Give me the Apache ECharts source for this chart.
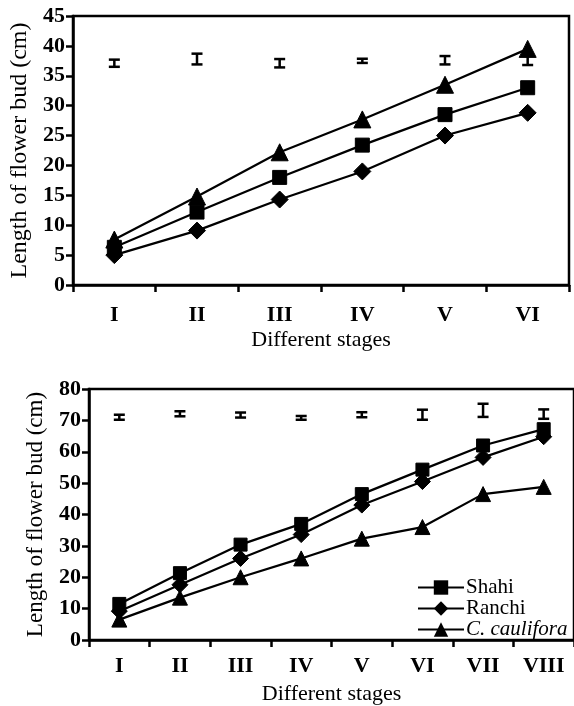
<!DOCTYPE html>
<html>
<head>
<meta charset="utf-8">
<script src="https://cdn.jsdelivr.net/npm/echarts@6/dist/echarts.min.js"></script>
<style>
html,body{margin:0;padding:0;background:#fff;}
#c{width:574px;height:706px;}
</style>
</head>
<body>
<div id="c"></div>
<script>
// ---- data ----
const stagesTop = ['I', 'II', 'III', 'IV', 'V', 'VI'];
const stagesBottom = ['I', 'II', 'III', 'IV', 'V', 'VI', 'VII', 'VIII'];

const shahiTop = [6.3, 12.2, 18.0, 23.4, 28.5, 33.0];
const ranchiTop = [5.0, 9.1, 14.3, 19.0, 25.0, 28.8];
const caulTop = [7.6, 14.8, 22.2, 27.7, 33.5, 39.5];
const errMeanTop = [37.1, 37.8, 37.1, 37.5, 37.6, 37.8];
const errSizeTop = [0.6, 0.9, 0.7, 0.35, 0.7, 1.0];

const shahiBottom = [11.5, 21.3, 30.4, 37.0, 46.5, 54.3, 62.0, 67.2];
const ranchiBottom = [9.2, 17.6, 26.0, 33.6, 43.0, 50.5, 58.2, 64.8];
const caulBottom = [6.5, 13.5, 20.0, 26.0, 32.3, 36.0, 46.5, 48.8];
const errMeanBottom = [71.0, 72.1, 71.7, 70.8, 71.8, 71.8, 73.2, 72.0];
const errSizeBottom = [0.8, 0.8, 0.8, 0.6, 0.8, 1.6, 2.1, 1.5];

const yTicksTop = {min: 0, max: 45, interval: 5};
const yTicksBottom = {min: 0, max: 80, interval: 10};

const seriesNames = ['Shahi', 'Ranchi', 'C. caulifora'];

// ---- helpers ----
const FONT = 'Liberation Serif';
function errData(means, sizes) {
  return means.map((m, i) => [i, m, sizes[i]]);
}
function errRender(params, api) {
  const i = api.value(0), m = api.value(1), e = api.value(2);
  const lo = api.coord([i, m - e]);
  const hi = api.coord([i, m + e]);
  const w = 5.5;
  const st = {stroke: '#000', lineWidth: 2.5};
  return {type: 'group', children: [
    {type: 'line', shape: {x1: lo[0], y1: lo[1], x2: hi[0], y2: hi[1]}, style: st},
    {type: 'line', shape: {x1: lo[0] - w, y1: lo[1], x2: lo[0] + w, y2: lo[1]}, style: st},
    {type: 'line', shape: {x1: hi[0] - w, y1: hi[1], x2: hi[0] + w, y2: hi[1]}, style: st}
  ]};
}
function xAxisCfg(gridIndex, cats, labelMargin, nameGap) {
  return {
    type: 'category', gridIndex, data: cats, boundaryGap: true,
    name: 'Different stages', nameLocation: 'middle', nameGap,
    nameTextStyle: {fontFamily: FONT, fontSize: 22, color: '#000'},
    axisLine: {lineStyle: {color: '#000', width: 2.5}},
    axisTick: {show: true, length: 7, lineStyle: {color: '#000', width: 2.5}, alignWithLabel: false},
    axisLabel: {fontFamily: FONT, fontSize: 22, fontWeight: 'bold', color: '#000', margin: labelMargin},
    splitLine: {show: false}
  };
}
function yAxisCfg(gridIndex, t, nameGap, nameSize) {
  return {
    type: 'value', gridIndex, min: t.min, max: t.max, interval: t.interval,
    name: 'Length of flower bud (cm)', nameLocation: 'middle', nameGap, nameRotate: 90,
    nameTextStyle: {fontFamily: FONT, fontSize: nameSize, color: '#000'},
    axisLine: {show: true, lineStyle: {color: '#000', width: 2.5}},
    axisTick: {show: true, length: 7, lineStyle: {color: '#000', width: 2.5}},
    axisLabel: {fontFamily: FONT, fontSize: 22, fontWeight: 'bold', color: '#000', margin: 8},
    splitLine: {show: false}
  };
}
function lineSeries(name, data, symbol, size, idx) {
  return {
    type: 'line', name, data, xAxisIndex: idx, yAxisIndex: idx,
    symbol, symbolSize: size, showAllSymbol: true,
    lineStyle: {color: '#000', width: 2.2},
    itemStyle: {color: '#000', borderColor: '#000'},
    emphasis: {disabled: true}, animation: false, z: 3
  };
}

const chart = echarts.init(document.getElementById('c'), null, {renderer: 'canvas'});
chart.setOption({
  backgroundColor: '#fff',
  animation: false,
  grid: [
    {left: 70, top: 16, width: 499, height: 269, show: true, borderColor: '#000', borderWidth: 2.5, backgroundColor: 'transparent'},
    {left: 89, top: 389, width: 492, height: 252, show: true, borderColor: '#000', borderWidth: 2.5, backgroundColor: 'transparent'}
  ],
  xAxis: [
    xAxisCfg(0, stagesTop, 19, 44),
    xAxisCfg(1, stagesBottom, 15, 43)
  ],
  yAxis: [
    yAxisCfg(0, yTicksTop, 41, 24),
    yAxisCfg(1, yTicksBottom, 42, 23)
  ],
  legend: {
    data: seriesNames, orient: 'vertical', left: 412, top: 572,
    itemWidth: 46, itemHeight: 18, itemGap: 0,
    textStyle: {fontFamily: FONT, fontSize: 21, color: '#000', lineHeight: 20, padding: [0, 0, 0, -3],
      rich: {i: {fontFamily: FONT, fontSize: 21, fontStyle: 'italic', color: '#000', lineHeight: 20}}},
    formatter: n => n === 'C. caulifora' ? '{i|C. caulifora}' : n,
    selectedMode: false
  },
  series: [
    lineSeries('Shahi', shahiTop, 'rect', 14, 0),
    lineSeries('Ranchi', ranchiTop, 'diamond', 17, 0),
    lineSeries('C. caulifora', caulTop, 'triangle', 17, 0),
    {type: 'custom', xAxisIndex: 0, yAxisIndex: 0, renderItem: errRender, data: errData(errMeanTop, errSizeTop), encode: {x: 0, y: 1}, z: 2, silent: true},
    lineSeries('Shahi', shahiBottom, 'rect', 13, 1),
    lineSeries('Ranchi', ranchiBottom, 'diamond', 16, 1),
    lineSeries('C. caulifora', caulBottom, 'triangle', 15, 1),
    {type: 'custom', xAxisIndex: 1, yAxisIndex: 1, renderItem: errRender, data: errData(errMeanBottom, errSizeBottom), encode: {x: 0, y: 1}, z: 2, silent: true}
  ]
});
</script>
</body>
</html>
